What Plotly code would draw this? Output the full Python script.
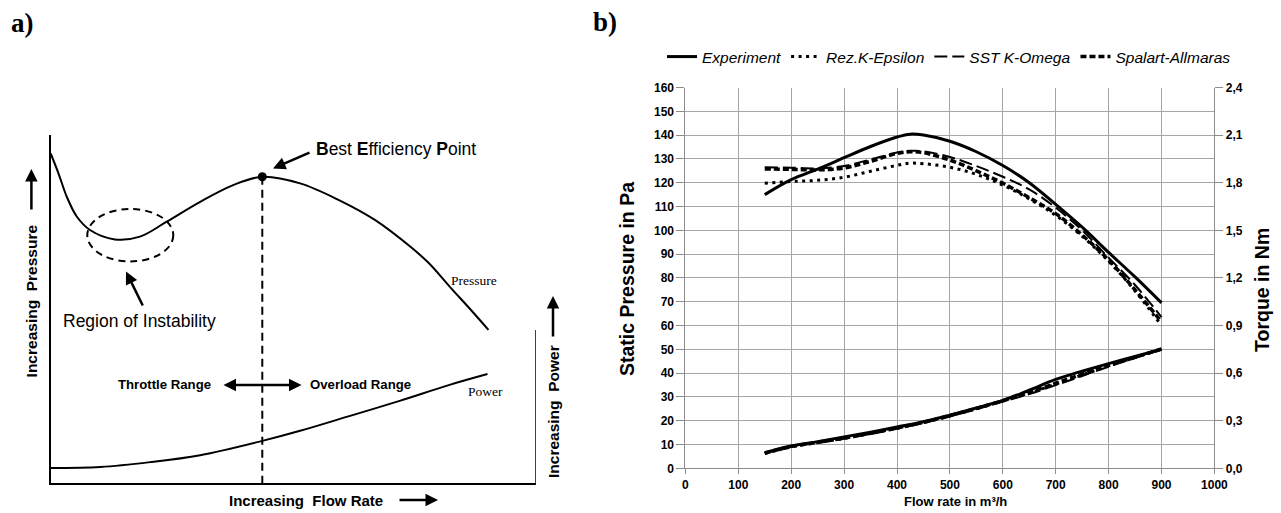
import plotly.graph_objects as go

W, H = 1281, 513

# ---------------- Panel a) schematic (normalized units 0..100) ----------------
schem_flow_pressure = [0, 1.6, 3.3, 5.4, 8.1, 13.2, 18.4, 23.9, 30.8, 37.6, 43.6, 51.4, 59.4, 66.8, 74.2, 77.9, 82.3, 86.6, 90.2]
schem_pressure = [94.7, 89.0, 82.3, 76.5, 72.7, 70.0, 70.8, 75.1, 80.8, 85.6, 88.0, 86.1, 81.3, 75.6, 67.8, 63.2, 56.3, 49.7, 44.0]
schem_flow_power = [0, 10.2, 20.5, 30.8, 43.6, 51.4, 61.7, 71.9, 82.2, 90.0]
schem_power = [4.3, 4.6, 6.0, 8.0, 12.1, 15.0, 19.3, 23.6, 28.2, 31.3]
bep_flow, bep_pressure = 43.6, 88.0
instab_center = (16.4, 71.2)
instab_radius = (8.86, 7.53)
right_axis_top = 44.0

# ---------------- Panel b) measured / simulated data ----------------
flow_pressure = [150, 200, 250, 300, 350, 400, 425, 450, 500, 550, 600, 650, 700, 750, 800, 850, 900]
p_experiment = [115, 121.3, 125.7, 130.5, 135.2, 139.2, 140.4, 140, 137.4, 133, 127.2, 120, 110.9, 101.3, 90.7, 80.4, 69.5]
p_rez_k_eps = [119.8, 120.5, 121, 122.3, 124.8, 127.3, 128.2, 128, 126.5, 123.5, 119, 113.2, 106.3, 97.5, 87, 74.5, 60]
p_sst_k_omega = [126.5, 126.3, 126, 127, 129.8, 132.7, 133.4, 133.2, 130.8, 127, 122.5, 117.2, 109.5, 100, 88.5, 77, 63.5]
p_spalart = [125.8, 125.6, 125.4, 126.2, 129, 132.3, 133, 132.6, 129.5, 125, 119.8, 113.7, 107, 98, 87.5, 75, 61.5]

flow_torque = [150, 200, 250, 300, 350, 400, 450, 500, 550, 600, 650, 700, 750, 800, 850, 900]
t_experiment = [0.098, 0.140, 0.168, 0.198, 0.228, 0.260, 0.293, 0.335, 0.380, 0.428, 0.492, 0.560, 0.612, 0.660, 0.705, 0.750]
t_rez_k_eps = [0.093, 0.135, 0.162, 0.189, 0.219, 0.252, 0.288, 0.330, 0.375, 0.425, 0.474, 0.530, 0.588, 0.645, 0.698, 0.750]
t_sst_k_omega = [0.095, 0.135, 0.160, 0.186, 0.216, 0.249, 0.285, 0.327, 0.372, 0.420, 0.468, 0.524, 0.582, 0.641, 0.695, 0.748]
t_spalart = [0.096, 0.137, 0.164, 0.191, 0.222, 0.255, 0.290, 0.333, 0.378, 0.426, 0.477, 0.536, 0.593, 0.648, 0.700, 0.752]

series_names = ["Experiment", "Rez.K-Epsilon", "SST K-Omega", "Spalart-Allmaras"]
torque_tickvals = [0, 0.3, 0.6, 0.9, 1.2, 1.5, 1.8, 2.1, 2.4]
torque_ticktext = ["0,0", "0,3", "0,6", "0,9", "1,2", "1,5", "1,8", "2,1", "2,4"]

SANS = "Liberation Sans, Arial, sans-serif"
SERIF = "Liberation Serif, Times New Roman, serif"


def PX(x):
    return x / W


def PY(y):
    return 1 - y / H


fig = go.Figure()

# ---- panel a traces ----
fig.add_trace(go.Scatter(x=schem_flow_pressure, y=schem_pressure, mode="lines",
                         line=dict(color="black", width=2, shape="spline"),
                         xaxis="x", yaxis="y", showlegend=False, hoverinfo="skip"))
fig.add_trace(go.Scatter(x=schem_flow_power, y=schem_power, mode="lines",
                         line=dict(color="black", width=2, shape="spline"),
                         xaxis="x", yaxis="y", showlegend=False, hoverinfo="skip"))
fig.add_trace(go.Scatter(x=[bep_flow, bep_flow], y=[bep_pressure, 0], mode="lines",
                         line=dict(color="black", width=2, dash="8px,5px"),
                         xaxis="x", yaxis="y", showlegend=False, hoverinfo="skip"))
fig.add_trace(go.Scatter(x=[bep_flow], y=[bep_pressure], mode="markers",
                         marker=dict(color="black", size=9, symbol="circle"),
                         xaxis="x", yaxis="y", showlegend=False, hoverinfo="skip"))

# ---- panel b pressure traces ----
styles = [
    dict(color="black", width=3),
    dict(color="black", width=3, dash="3px,4.5px"),
    dict(color="black", width=2, dash="13px,5px"),
    dict(color="black", width=3.5, dash="6px,3px"),
]
for name, ys, st in zip(series_names, [p_experiment, p_rez_k_eps, p_sst_k_omega, p_spalart], styles):
    fig.add_trace(go.Scatter(x=flow_pressure, y=ys, mode="lines", name="<i>" + name + "</i>",
                             line=dict(shape="spline", **st), xaxis="x2", yaxis="y2"))
for name, ys, st in zip(series_names, [t_experiment, t_rez_k_eps, t_sst_k_omega, t_spalart], styles):
    fig.add_trace(go.Scatter(x=flow_torque, y=ys, mode="lines", name=name, showlegend=False,
                             line=dict(shape="spline", **st), xaxis="x2", yaxis="y3"))

gridc = "#a6a6a6"
axc = "#8c8c8c"
tickfont = dict(family=SANS, size=12, color="black", weight="bold")

fig.update_layout(
    width=W, height=H, autosize=False,
    margin=dict(l=0, r=0, t=0, b=0, autoexpand=False),
    paper_bgcolor="white", plot_bgcolor="white",
    xaxis=dict(domain=[PX(50.7), PX(536)], range=[0, 100], showline=True, linecolor="black",
               linewidth=1.5, showgrid=False, zeroline=False, showticklabels=False, ticks="",
               anchor="y", fixedrange=True, automargin=False),
    yaxis=dict(domain=[PY(483), PY(135)], range=[0, 100], showline=True, linecolor="black",
               linewidth=1.5, showgrid=False, zeroline=False, showticklabels=False, ticks="",
               anchor="x", fixedrange=True, automargin=False),
    xaxis2=dict(domain=[PX(685.4), PX(1214.4)], range=[0, 1000], dtick=100, tick0=0,
                showgrid=True, gridcolor=gridc, gridwidth=1, showline=True, linecolor=axc,
                ticks="outside", ticklen=5, tickcolor=axc, tickfont=tickfont,
                zeroline=False, anchor="y2", automargin=False),
    yaxis2=dict(domain=[PY(468.3), PY(87.5)], range=[0, 160], dtick=10, tick0=0,
                showgrid=True, gridcolor=gridc, gridwidth=1, showline=True, linecolor=axc,
                ticks="outside", ticklen=8, tickcolor=axc, tickfont=tickfont,
                zeroline=False, anchor="x2", automargin=False),
    yaxis3=dict(overlaying="y2", side="right", anchor="x2", range=[0, 2.4],
                tickvals=torque_tickvals, ticktext=torque_ticktext,
                showgrid=False, showline=True, linecolor=axc, ticks="outside", ticklen=8,
                tickcolor=axc, tickfont=tickfont, zeroline=False, automargin=False),
    legend=dict(orientation="h", x=PX(662), xanchor="left", y=PY(57), yanchor="middle",
                font=dict(family=SANS, size=15.5, color="black"), itemwidth=30,
                bgcolor="rgba(0,0,0,0)", traceorder="normal"),
    showlegend=True,
)

# shapes: instability ellipse and right power axis
fig.add_shape(type="circle", xref="x", yref="y",
              x0=instab_center[0] - instab_radius[0], x1=instab_center[0] + instab_radius[0],
              y0=instab_center[1] - instab_radius[1], y1=instab_center[1] + instab_radius[1],
              line=dict(color="black", width=2, dash="7px,5px"))
fig.add_shape(type="line", xref="x", yref="y", x0=100, x1=100, y0=0, y1=right_axis_top,
              line=dict(color="black", width=1.5))

ann = []


def text(x, y, s, size, family=SANS, bold=False, angle=0, xanchor="center"):
    ann.append(dict(x=PX(x), y=PY(y), xref="paper", yref="paper", text=s, showarrow=False,
                    textangle=angle, xanchor=xanchor, yanchor="middle",
                    font=dict(family=family, size=size, color="black",
                              weight="bold" if bold else "normal")))


def arrow(tx, ty, hx, hy, both=False, width=2.5):
    ann.append(dict(x=PX(hx), y=PY(hy), xref="paper", yref="paper", ax=tx - hx, ay=ty - hy,
                    text="", showarrow=True, arrowhead=2, arrowsize=1, arrowwidth=width,
                    arrowcolor="black", arrowside="end+start" if both else "end",
                    startarrowhead=2, startarrowsize=1))


# panel labels
text(22, 23, "a)", 27, SERIF, bold=True)
text(605, 22, "b)", 27, SERIF, bold=True)

# panel a texts
text(314, 149, "<b>B</b>est <b>E</b>fficiency <b>P</b>oint", 17.5, xanchor="left")
arrow(311, 152, 273, 168.5)
text(139.5, 321, "Region of Instability", 17.5)
arrow(143.5, 307, 126, 271.5)
text(474, 280, "Pressure", 13.5, SERIF)
text(486, 391, "Power", 13.5, SERIF)
text(164.5, 384, "Throttle Range", 13.2, bold=True)
text(360.7, 384, "Overload Range", 13.2, bold=True)
arrow(222, 385, 301.5, 385, both=True)
text(306, 500, "Increasing  Flow Rate", 15, bold=True)
arrow(398, 500, 438, 500)
text(31.4, 301, "Increasing  Pressure", 15.5, bold=True, angle=-90)
arrow(31.4, 211, 31.4, 169)
text(553, 412, "Increasing  Power", 15.5, bold=True, angle=-90)
arrow(553, 338, 553, 296)

# panel b axis titles
text(955, 501, "Flow rate in m³/h", 13, bold=True)
text(627, 279, "Static Pressure in Pa", 19.5, bold=True, angle=-90)
text(1262, 290, "Torque in Nm", 19.5, bold=True, angle=-90)

fig.update_layout(annotations=ann)

fig.write_html("out.html")
